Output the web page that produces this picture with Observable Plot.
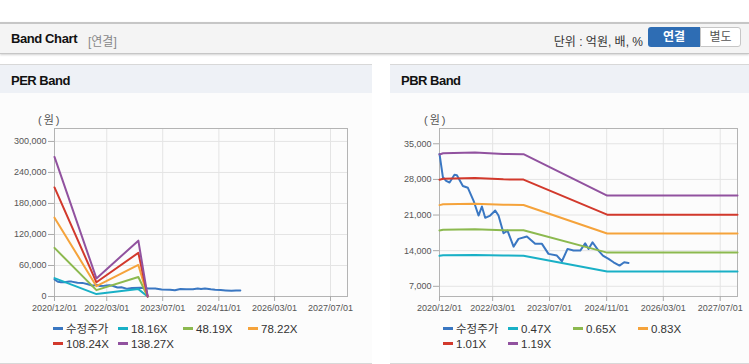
<!DOCTYPE html>
<html><head><meta charset="utf-8">
<script src="https://cdn.jsdelivr.net/npm/d3@7"></script>
<script src="https://cdn.jsdelivr.net/npm/@observablehq/plot@0.6"></script>
<style>
body{margin:0;width:749px;height:364px;position:relative;background:#fff;font-family:"Liberation Sans","Noto Sans CJK KR",sans-serif;overflow:hidden}
#hdr{position:absolute;left:0;top:22px;width:749px;height:29px;background:#f4f4f4;border-top:2px solid #c6c6c6;border-bottom:1px solid #c6c6c6;box-shadow:0 1px 2px rgba(0,0,0,.18)}
#hdr .t{position:absolute;left:11px;top:7px;font-size:13px;font-weight:bold;letter-spacing:-0.4px;color:#111}
#hdr .s{position:absolute;left:88px;top:8px;font-size:12px;color:#888}
#hdr .u{position:absolute;right:106px;top:8px;font-size:12px;color:#333}
#b1{position:absolute;left:648px;top:3px;width:52px;height:20px;background:#2e6db4;border-radius:3px 0 0 3px;color:#fff;font-weight:bold;font-size:12px;text-align:center;line-height:20px}
#b2{position:absolute;left:700px;top:3px;width:39px;height:18px;background:#fff;border:1px solid #c6c6c6;border-radius:0 3px 3px 0;color:#555;font-size:12px;text-align:center;line-height:18px}
.panel{position:absolute;top:64px;height:298px;border-top:1px solid #d8d8d8;border-bottom:1px solid #d8d8d8;background:#fcfcfc}
.ph{position:absolute;left:0;top:0;right:0;height:28px;background:#eef1f6}
.ph span{position:absolute;left:11px;top:8px;font-size:13px;font-weight:bold;letter-spacing:-0.5px;color:#111}
.unit{position:absolute;top:111px;font-size:11px;color:#555;letter-spacing:2px}
.chart{position:absolute;top:110px}
.lg{position:absolute;font-size:11.5px;color:#333;line-height:13px;white-space:nowrap}
.lg i{display:inline-block;width:10px;height:3px;vertical-align:middle;margin-right:3px;position:relative;top:-1px}
</style></head>
<body>
<div id="hdr"><span class="t">Band Chart</span><span class="s">[연결]</span><span class="u">단위 : 억원, 배, %</span><div id="b1">연결</div><div id="b2">별도</div></div>
<div class="panel" style="left:0;width:372px"><div class="ph"><span>PER Band</span></div></div>
<div class="panel" style="left:390px;width:359px"><div class="ph"><span>PBR Band</span></div></div>
<div class="unit" style="left:38px">(원)</div>
<div class="unit" style="left:424px">(원)</div>
<div id="per" class="chart" style="left:0"></div>
<div id="pbr" class="chart" style="left:380px"></div>
<script>
// ---- data ----
const xTickDates = ["2020-12-01","2022-03-01","2023-07-01","2024-11-01","2026-03-01","2027-07-01"];
const xDomain = ["2020-12-01","2027-11-26"];
const perYTicks = [0,60000,120000,180000,240000,300000];
const pbrYTicks = [7000,14000,21000,28000,35000];

const priceDates = ["2020-12-01","2020-12-30","2021-01-27","2021-02-25","2021-04-08","2021-04-29","2021-06-19","2021-08-01","2021-09-18","2021-10-31","2021-11-29","2021-12-27","2022-02-08","2022-03-23","2022-04-20","2022-06-02","2022-07-06","2022-08-27","2022-10-08","2022-12-19","2023-02-28","2023-04-27","2023-06-22","2023-09-02","2023-10-15","2023-12-02","2024-01-22","2024-03-20","2024-05-01","2024-05-30","2024-07-03","2024-08-23","2024-09-30","2024-11-17","2024-12-30","2025-02-19","2025-03-31","2025-05-07"];
const priceValues = [33000,28430,27700,27400,28900,28800,26700,26350,23850,20900,22670,20450,20900,21880,20900,17420,17950,14800,16320,16770,15340,15340,13370,13040,11920,14350,14020,14020,15450,14350,15650,14020,13040,12390,11720,11070,11720,11600];

const perBandDates = ["2020-12-01","2021-12-01","2022-12-01","2023-02-20"];
const per18_16 = [35500,4700,14300,0];
const per48_19 = [94000,12300,37700,0];
const per78_22 = [152500,19900,61000,0];
const per108_24 = [211000,27500,84500,0];
const per138_27 = [270000,35000,108000,0];

const pbrBandDates = ["2020-12-01","2021-01-01","2021-10-01","2022-06-01","2022-11-20","2024-11-05","2027-11-26"];
const pbr0_47 = [13000,13100,13150,13040,13020,9900,9900];
const pbr0_65 = [17970,18110,18190,18020,18000,13620,13620];
const pbr0_83 = [22950,23120,23230,23020,22980,17370,17370];
const pbr1_01 = [27920,28140,28260,28010,27970,21080,21080];
const pbr1_19 = [32900,33150,33300,33000,32950,24830,24830];

const priceName = "수정주가";
const perNames = ["18.16X","48.19X","78.22X","108.24X","138.27X"];
const pbrNames = ["0.47X","0.65X","0.83X","1.01X","1.19X"];
const colors = ["#3a77c2","#19b0c6","#8cb94f","#f5a33b","#d2392c","#91529f"];

// ---- build ----
const D = s => new Date(s + "T00:00:00Z");
const price = priceDates.map((d,i)=>({date:D(d), value:priceValues[i]}));
const toRows = (dates, vals) => dates.map((d,i)=>({date:D(d), value:vals[i]}));
const perBands = [per18_16,per48_19,per78_22,per108_24,per138_27].map(v=>toRows(perBandDates,v));
const pbrBands = [pbr0_47,pbr0_65,pbr0_83,pbr1_01,pbr1_19].map(v=>toRows(pbrBandDates,v));
const xTicks = xTickDates.map(D);
const font = '"Liberation Sans","Noto Sans CJK KR",sans-serif';

function chart(width, ml, mr, yDomain, yTicks, bands){
  return Plot.plot({
    width, height:210, marginLeft:ml, marginRight:mr, marginTop:18, marginBottom:24,
    style:{fontFamily:font, fontSize:"9px", background:"transparent", color:"#555"},
    x:{type:"utc", domain:xDomain.map(D)},
    y:{domain:yDomain},
    marks:[
      Plot.gridX(xTicks,{stroke:"#e4e4e4", strokeOpacity:1}),
      Plot.gridY(yTicks,{stroke:"#e4e4e4", strokeOpacity:1}),
      Plot.frame({stroke:"#b4b4b4"}),
      Plot.axisX(xTicks,{tickFormat:d3.utcFormat("%Y/%m/%d"), tickSize:5, tickPadding:3, stroke:"#aaa", fill:"#555", label:null}),
      Plot.axisY(yTicks,{tickFormat:d3.format(","), tickSize:6, tickPadding:2, stroke:"#aaa", fill:"#555", label:null}),
      Plot.line(price,{x:"date", y:"value", stroke:colors[0], strokeWidth:2}),
      ...bands.map((b,i)=>Plot.line(b,{x:"date", y:"value", stroke:colors[i+1], strokeWidth:2}))
    ]
  });
}
document.getElementById("per").append(chart(370,54,23,[0,325000],perYTicks,perBands));
document.getElementById("pbr").append(chart(369,59,12,[5000,38000],pbrYTicks,pbrBands));

function legend(x0, names){
  const all = [priceName, ...names];
  all.forEach((n,i)=>{
    const row = Math.floor(i/4), col = i%4;
    const d = document.createElement("div");
    d.className = "lg";
    d.style.left = (x0 + col*65) + "px";
    d.style.top = (323 + row*15) + "px";
    d.innerHTML = `<i style="background:${colors[i]}"></i>${n}`;
    document.body.append(d);
  });
}
legend(53, perNames);
legend(443, pbrNames);
</script>
</body></html>
